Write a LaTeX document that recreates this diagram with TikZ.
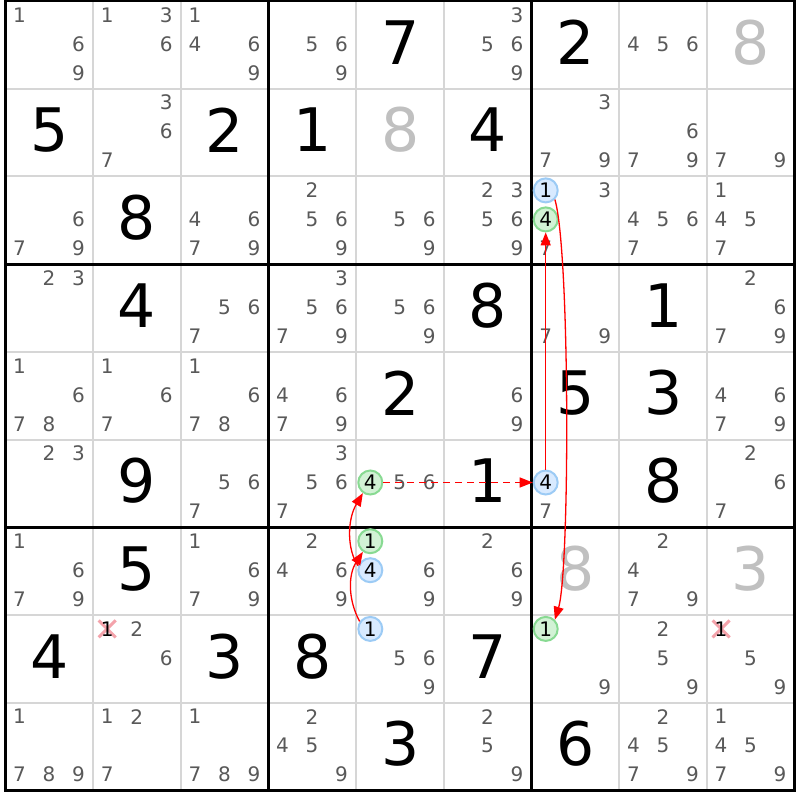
\documentclass[tikz,border=0pt]{standalone}
\usepackage{fontspec}
\setmainfont{DejaVu Sans}
\usetikzlibrary{arrows.meta}
\definecolor{candc}{HTML}{595959}
\definecolor{thinc}{HTML}{D6D6D6}
\definecolor{ghostc}{HTML}{C0C0C0}
\definecolor{bluef}{HTML}{D8EAFF}
\definecolor{blued}{HTML}{9CCBF5}
\definecolor{greenf}{HTML}{D2F2D5}
\definecolor{greend}{HTML}{88DA92}
\definecolor{xpink}{HTML}{F4A3AB}
\def\gx{5.5}
\def\gy{1}
\def\cellw{87.7}
\newcommand\cnd[3]{\foreach \d in {#3}{%
  \pgfmathtruncatemacro\sc{mod(\d-1,3)}%
  \pgfmathtruncatemacro\sr{(\d-1)/3}%
  \node[cand] (n#1#2\d) at ({\gx+(#2-1)*\cellw+14+\sc*29.5},{\gy+(#1-1)*\cellw+14+\sr*29}) {\d};}}
\newcommand\hl[4]{%
  \pgfmathtruncatemacro\sc{mod(#4-1,3)}%
  \pgfmathtruncatemacro\sr{(#4-1)/3}%
  \node[#1] (h#2#3#4) at ({\gx+(#3-1)*\cellw+14+\sc*29.5},{\gy+(#2-1)*\cellw+14+\sr*29}) {#4};}
\newcommand\elim[3]{%
  \pgfmathtruncatemacro\sc{mod(#3-1,3)}%
  \pgfmathtruncatemacro\sr{(#3-1)/3}%
  \coordinate (e#1#2#3) at ({\gx+(#2-1)*\cellw+14+\sc*29.5},{\gy+(#1-1)*\cellw+14+\sr*29});
  \draw[xmark] (e#1#2#3) ++(-8.5,-8.5) -- ++(17,17) (e#1#2#3) ++(-8.5,8.5) -- ++(17,-17);
  \node[cand,text=black] (x#1#2#3) at (e#1#2#3) {#3};}
\newcommand\gv[4][given]{\node[#1] (g#2#3) at ({\gx+(#3-0.5)*\cellw},{\gy+(#2-0.5)*\cellw-2.5}) {#4};}
\begin{document}
\begin{tikzpicture}[x=1pt,y=-1pt,
  cand/.style={text=candc,font=\fontsize{20}{20}\selectfont,inner sep=0pt},
  given/.style={font=\fontsize{60}{60}\selectfont,inner sep=0pt},
  ghost/.style={given,text=ghostc},
  hlblue/.style={circle,draw=blued,fill=bluef,line width=2pt,minimum size=24pt,inner sep=0pt,font=\fontsize{20}{20}\selectfont},
  hlgreen/.style={hlblue,draw=greend,fill=greenf},
  link/.style={red,line width=1.3pt,-{Triangle[length=13pt,width=10pt]}},
  weak/.style={link,dash pattern=on 7pt off 5pt},
  gridthin/.style={thinc,line width=2pt},
  gridthick/.style={black,line width=3pt},
  xmark/.style={xpink,line width=3pt}]
\useasboundingbox (0,0) rectangle (800,800);
\fill[white] (0,0) rectangle (800,800);
\foreach \i in {1,2,4,5,7,8}{
  \draw[gridthin] ({\gx+\i*\cellw},\gy) -- ++(0,{9*\cellw});
  \draw[gridthin] (\gx,{\gy+\i*\cellw}) -- ++({9*\cellw},0);}
\foreach \i in {0,3,6,9}{
  \draw[gridthick] ({\gx+\i*\cellw},\gy-1.5) -- ++(0,{9*\cellw+3});
  \draw[gridthick] (\gx-1.5,{\gy+\i*\cellw}) -- ++({9*\cellw+3},0);}
% row 1
\cnd{1}{1}{1,6,9} \cnd{1}{2}{1,3,6} \cnd{1}{3}{1,4,6,9} \cnd{1}{4}{5,6,9} \gv{1}{5}{7}
\cnd{1}{6}{3,5,6,9} \gv{1}{7}{2} \cnd{1}{8}{4,5,6} \gv[ghost]{1}{9}{8}
% row 2
\gv{2}{1}{5} \cnd{2}{2}{3,6,7} \gv{2}{3}{2} \gv{2}{4}{1} \gv[ghost]{2}{5}{8} \gv{2}{6}{4}
\cnd{2}{7}{3,7,9} \cnd{2}{8}{6,7,9} \cnd{2}{9}{7,9}
% row 3
\cnd{3}{1}{6,7,9} \gv{3}{2}{8} \cnd{3}{3}{4,6,7,9} \cnd{3}{4}{2,5,6,9} \cnd{3}{5}{5,6,9}
\cnd{3}{6}{2,3,5,6,9} \hl{hlblue}{3}{7}{1} \hl{hlgreen}{3}{7}{4} \cnd{3}{7}{3,7}
\cnd{3}{8}{4,5,6,7} \cnd{3}{9}{1,4,5,7}
% row 4
\cnd{4}{1}{2,3} \gv{4}{2}{4} \cnd{4}{3}{5,6,7} \cnd{4}{4}{3,5,6,7,9} \cnd{4}{5}{5,6,9}
\gv{4}{6}{8} \cnd{4}{7}{7,9} \gv{4}{8}{1} \cnd{4}{9}{2,6,7,9}
% row 5
\cnd{5}{1}{1,6,7,8} \cnd{5}{2}{1,6,7} \cnd{5}{3}{1,6,7,8} \cnd{5}{4}{4,6,7,9} \gv{5}{5}{2}
\cnd{5}{6}{6,9} \gv{5}{7}{5} \gv{5}{8}{3} \cnd{5}{9}{4,6,7,9}
% row 6
\cnd{6}{1}{2,3} \gv{6}{2}{9} \cnd{6}{3}{5,6,7} \cnd{6}{4}{3,5,6,7} \hl{hlgreen}{6}{5}{4}
\cnd{6}{5}{5,6} \gv{6}{6}{1} \hl{hlblue}{6}{7}{4} \cnd{6}{7}{7} \gv{6}{8}{8} \cnd{6}{9}{2,6,7}
% row 7
\cnd{7}{1}{1,6,7,9} \gv{7}{2}{5} \cnd{7}{3}{1,6,7,9} \cnd{7}{4}{2,4,6,9} \hl{hlgreen}{7}{5}{1}
\hl{hlblue}{7}{5}{4} \cnd{7}{5}{6,9} \cnd{7}{6}{2,6,9} \gv[ghost]{7}{7}{8} \cnd{7}{8}{2,4,7,9}
\gv[ghost]{7}{9}{3}
% row 8
\gv{8}{1}{4} \elim{8}{2}{1} \cnd{8}{2}{2,6} \gv{8}{3}{3} \gv{8}{4}{8} \hl{hlblue}{8}{5}{1}
\cnd{8}{5}{5,6,9} \gv{8}{6}{7} \hl{hlgreen}{8}{7}{1} \cnd{8}{7}{9} \cnd{8}{8}{2,5,9}
\elim{8}{9}{1} \cnd{8}{9}{5,9}
% row 9
\cnd{9}{1}{1,7,8,9} \cnd{9}{2}{1,2,7} \cnd{9}{3}{1,7,8,9} \cnd{9}{4}{2,4,5,9} \gv{9}{5}{3}
\cnd{9}{6}{2,5,9} \gv{9}{7}{6} \cnd{9}{8}{2,4,5,7,9} \cnd{9}{9}{1,4,5,7,9}
% links
\draw[link] (h851.145) .. controls (348,600) and (348,575) .. (h751.-125);
\draw[link] (h754.160) .. controls (347,550) and (347,520) .. (h654.-125);
\draw[weak] (h654) -- (h674);
\draw[link] (h674) -- (h374);
\draw[link] (h371.-45) .. controls (570,250) and (570,570) .. (h871.45);
\end{tikzpicture}
\end{document}
